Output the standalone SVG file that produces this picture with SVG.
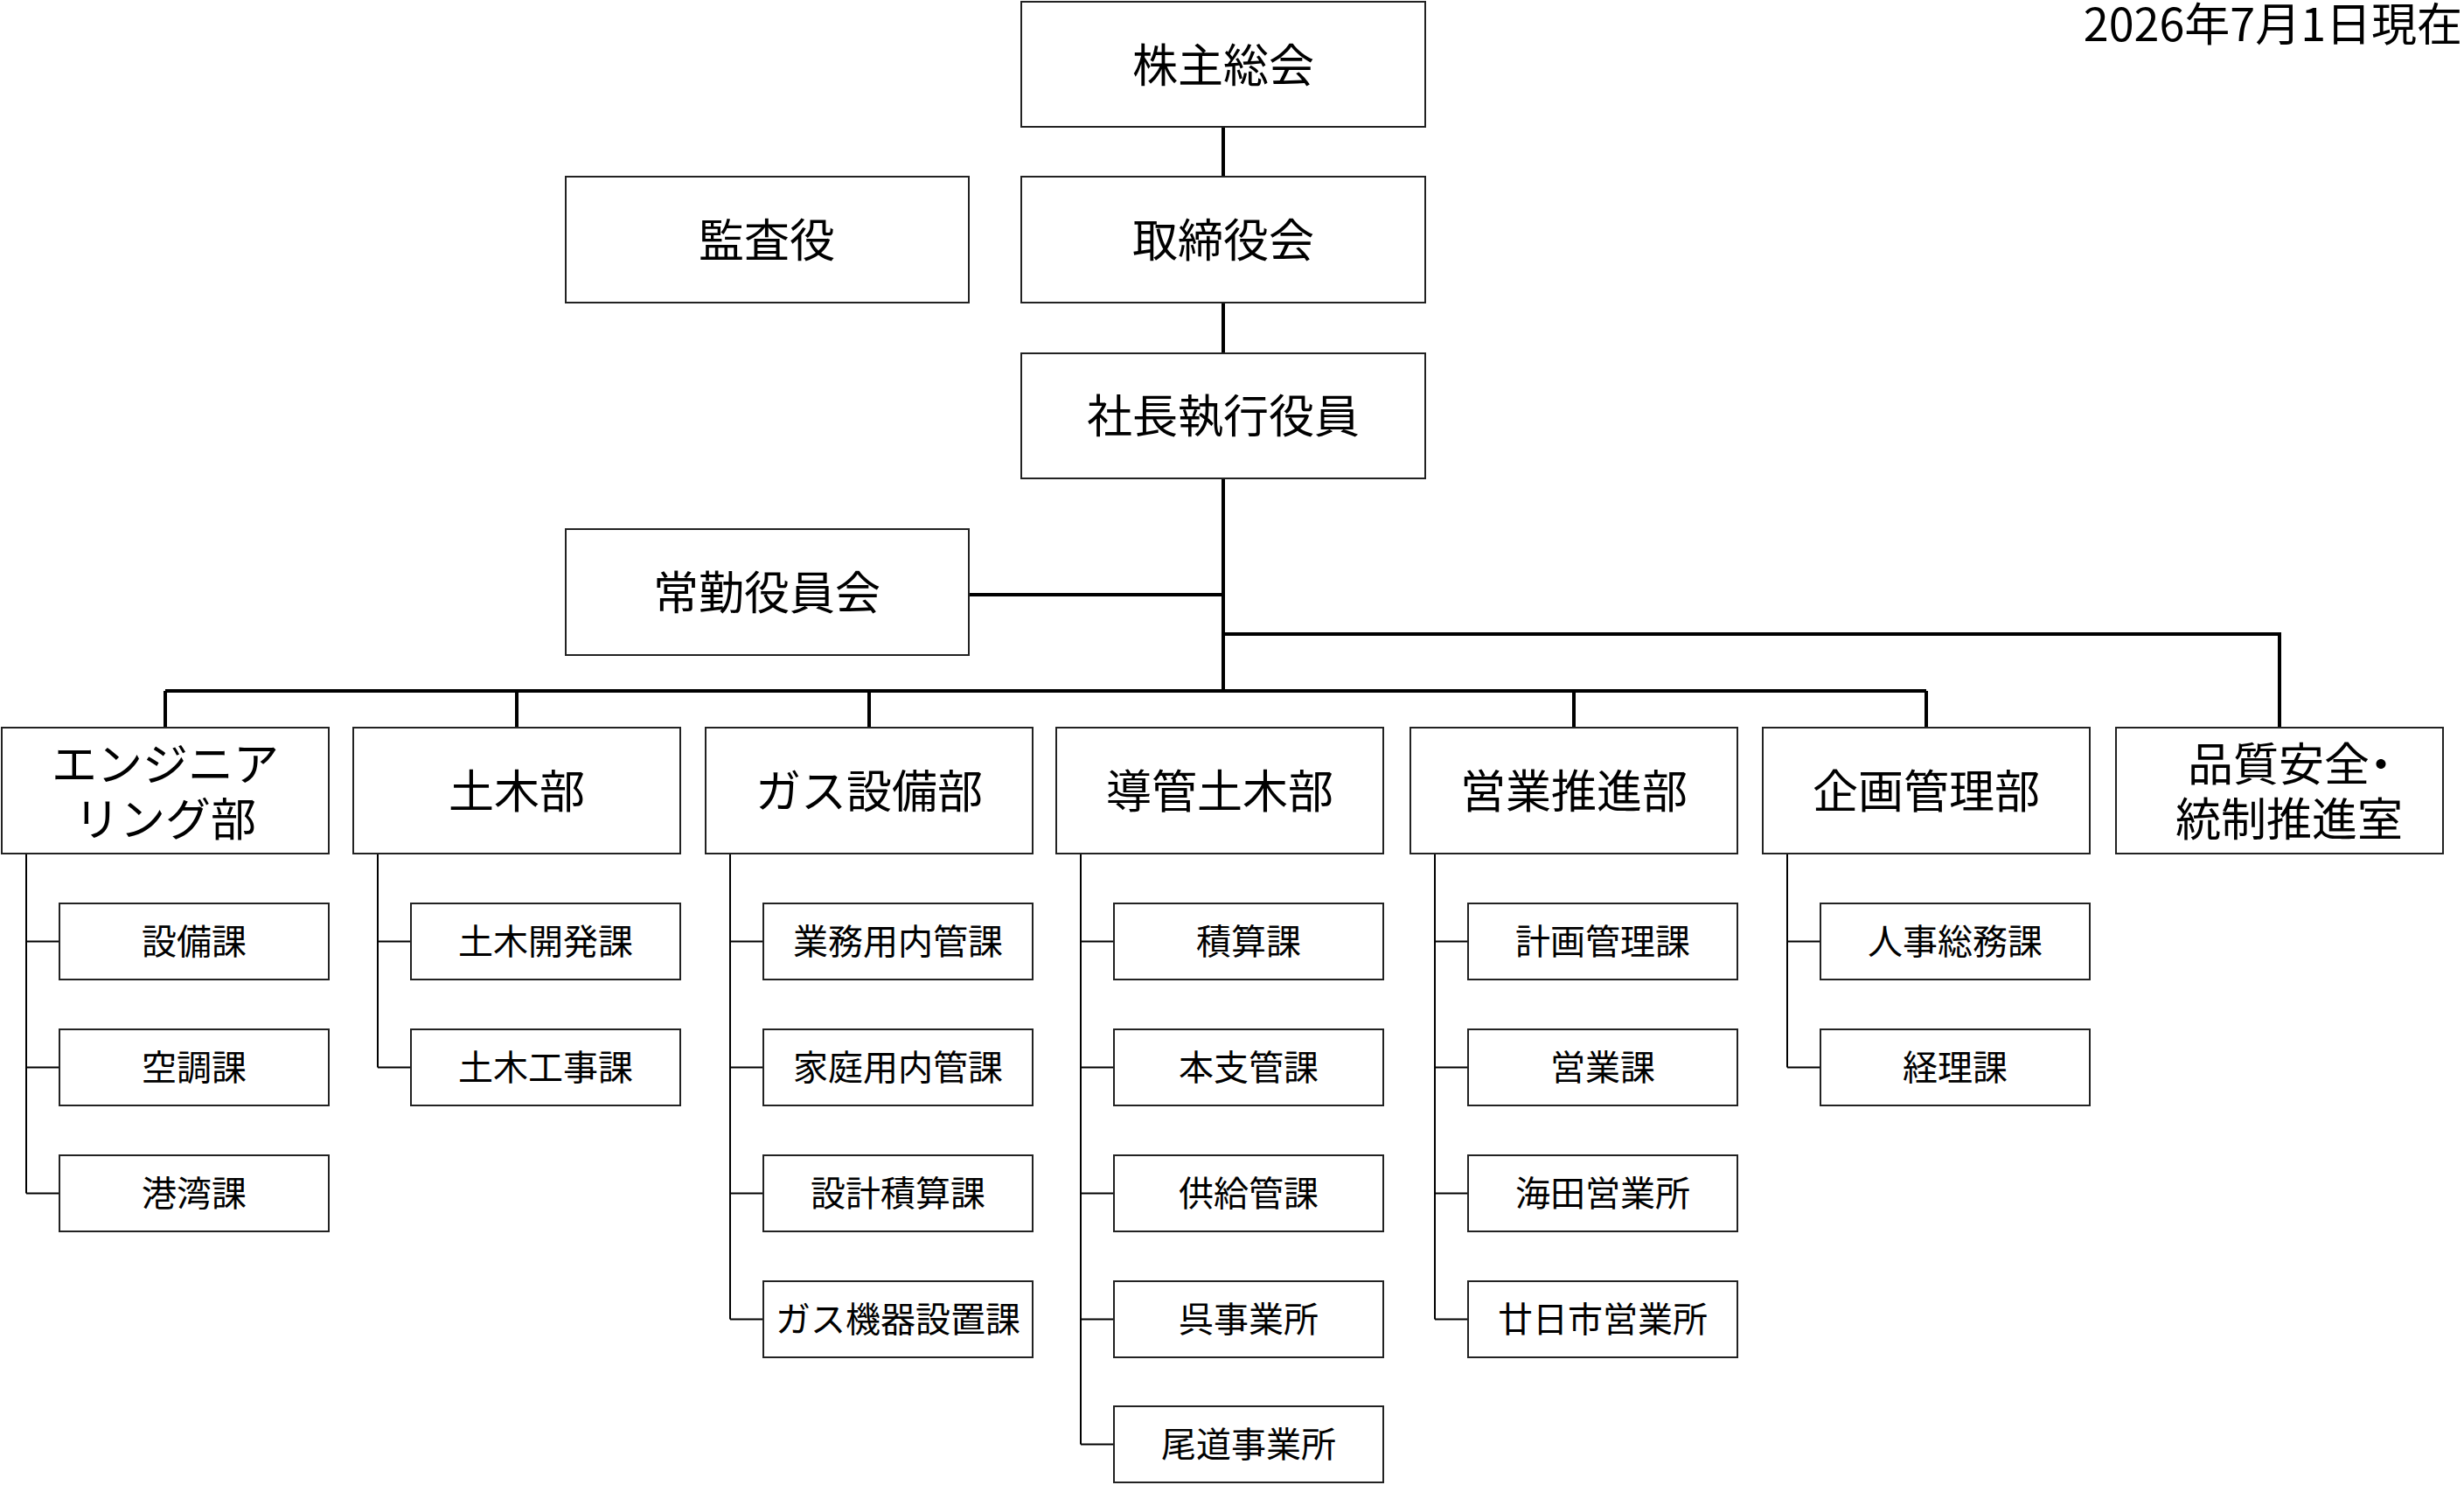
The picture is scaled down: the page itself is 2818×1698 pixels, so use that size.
<svg xmlns="http://www.w3.org/2000/svg" width="2818" height="1698" viewBox="0 0 2818 1698">
<style>
.b{fill:#fff;stroke:#222;stroke-width:2}
.t{font-family:"Noto Sans CJK JP","Noto Sans",sans-serif;fill:#000;text-anchor:middle}
.L{font-size:52px}
.S{font-size:40px}
.m{fill:none;stroke:#000;stroke-width:4}
.s{fill:none;stroke:#000;stroke-width:2}
</style>
<rect width="2818" height="1698" fill="#fff"/>
<text class="t" x="2816" y="47" style="font-size:52px;text-anchor:end">2026年7月1日現在</text>
<g id="connectors">
<path class="m" d="M1399 145V202M1399 346V404M1399 547V790M1108 680H1399M1399 725H2607V832M189 790H2203M189 790V832M591 790V832M994 790V832M1800 790V832M2203 790V832"/>
<path class="s" d="M30 976V1364.5M30 1076.5H68M30 1220.5H68M30 1364.5H68"/>
<path class="s" d="M432 976V1220.5M432 1076.5H470M432 1220.5H470"/>
<path class="s" d="M835 976V1508.5M835 1076.5H873M835 1220.5H873M835 1364.5H873M835 1508.5H873"/>
<path class="s" d="M1236 976V1651.5M1236 1076.5H1274M1236 1220.5H1274M1236 1364.5H1274M1236 1508.5H1274M1236 1651.5H1274"/>
<path class="s" d="M1641 976V1508.5M1641 1076.5H1679M1641 1220.5H1679M1641 1364.5H1679M1641 1508.5H1679"/>
<path class="s" d="M2044 976V1220.5M2044 1076.5H2082M2044 1220.5H2082"/>
</g>
<g id="n-kabunushi"><rect class="b" x="1168" y="2" width="462" height="143"/><text class="t L" x="1399" y="94">株主総会</text></g>
<g id="n-torishimari"><rect class="b" x="1168" y="202" width="462" height="144"/><text class="t L" x="1399" y="294">取締役会</text></g>
<g id="n-kansa"><rect class="b" x="647" y="202" width="461" height="144"/><text class="t L" x="877" y="294">監査役</text></g>
<g id="n-shacho"><rect class="b" x="1168" y="404" width="462" height="143"/><text class="t L" x="1399" y="495">社長執行役員</text></g>
<g id="n-jokin"><rect class="b" x="647" y="605" width="461" height="144"/><text class="t L" x="877" y="697">常勤役員会</text></g>

<g id="d-eng"><rect class="b" x="2" y="832" width="374" height="144"/><text class="t L" x="189" y="893">エンジニア</text><text class="t L" x="189" y="956">リング部</text></g>
<g id="d-doboku"><rect class="b" x="404" y="832" width="374" height="144"/><text class="t L" x="591" y="924">土木部</text></g>
<g id="d-gas"><rect class="b" x="807" y="832" width="374" height="144"/><text class="t L" x="994" y="924">ガス設備部</text></g>
<g id="d-dokan"><rect class="b" x="1208" y="832" width="374" height="144"/><text class="t L" x="1395" y="924">導管土木部</text></g>
<g id="d-eigyo"><rect class="b" x="1613" y="832" width="374" height="144"/><text class="t L" x="1800" y="924">営業推進部</text></g>
<g id="d-kikaku"><rect class="b" x="2016" y="832" width="374" height="144"/><text class="t L" x="2203" y="924">企画管理部</text></g>
<g id="d-hinshitsu"><rect class="b" x="2420" y="832" width="374" height="144"/><text class="t L" x="2502" y="893" style="text-anchor:start">品質安全<tspan dx="-13">・</tspan></text><text class="t L" x="2618" y="956">統制推進室</text></g>

<g id="s-e1"><rect class="b" x="68" y="1033" width="308" height="87"/><text class="t S" x="222" y="1091">設備課</text></g>
<g id="s-e2"><rect class="b" x="68" y="1177" width="308" height="87"/><text class="t S" x="222" y="1235">空調課</text></g>
<g id="s-e3"><rect class="b" x="68" y="1321" width="308" height="87"/><text class="t S" x="222" y="1379">港湾課</text></g>

<g id="s-d1"><rect class="b" x="470" y="1033" width="308" height="87"/><text class="t S" x="624" y="1091">土木開発課</text></g>
<g id="s-d2"><rect class="b" x="470" y="1177" width="308" height="87"/><text class="t S" x="624" y="1235">土木工事課</text></g>

<g id="s-g1"><rect class="b" x="873" y="1033" width="308" height="87"/><text class="t S" x="1027" y="1091">業務用内管課</text></g>
<g id="s-g2"><rect class="b" x="873" y="1177" width="308" height="87"/><text class="t S" x="1027" y="1235">家庭用内管課</text></g>
<g id="s-g3"><rect class="b" x="873" y="1321" width="308" height="87"/><text class="t S" x="1027" y="1379">設計積算課</text></g>
<g id="s-g4"><rect class="b" x="873" y="1465" width="308" height="87"/><text class="t S" x="1027" y="1523">ガス機器設置課</text></g>

<g id="s-k1"><rect class="b" x="1274" y="1033" width="308" height="87"/><text class="t S" x="1428" y="1091">積算課</text></g>
<g id="s-k2"><rect class="b" x="1274" y="1177" width="308" height="87"/><text class="t S" x="1428" y="1235">本支管課</text></g>
<g id="s-k3"><rect class="b" x="1274" y="1321" width="308" height="87"/><text class="t S" x="1428" y="1379">供給管課</text></g>
<g id="s-k4"><rect class="b" x="1274" y="1465" width="308" height="87"/><text class="t S" x="1428" y="1523">呉事業所</text></g>
<g id="s-k5"><rect class="b" x="1274" y="1608" width="308" height="87"/><text class="t S" x="1428" y="1666">尾道事業所</text></g>

<g id="s-y1"><rect class="b" x="1679" y="1033" width="308" height="87"/><text class="t S" x="1833" y="1091">計画管理課</text></g>
<g id="s-y2"><rect class="b" x="1679" y="1177" width="308" height="87"/><text class="t S" x="1833" y="1235">営業課</text></g>
<g id="s-y3"><rect class="b" x="1679" y="1321" width="308" height="87"/><text class="t S" x="1833" y="1379">海田営業所</text></g>
<g id="s-y4"><rect class="b" x="1679" y="1465" width="308" height="87"/><text class="t S" x="1833" y="1523">廿日市営業所</text></g>

<g id="s-p1"><rect class="b" x="2082" y="1033" width="308" height="87"/><text class="t S" x="2236" y="1091">人事総務課</text></g>
<g id="s-p2"><rect class="b" x="2082" y="1177" width="308" height="87"/><text class="t S" x="2236" y="1235">経理課</text></g>
</svg>
